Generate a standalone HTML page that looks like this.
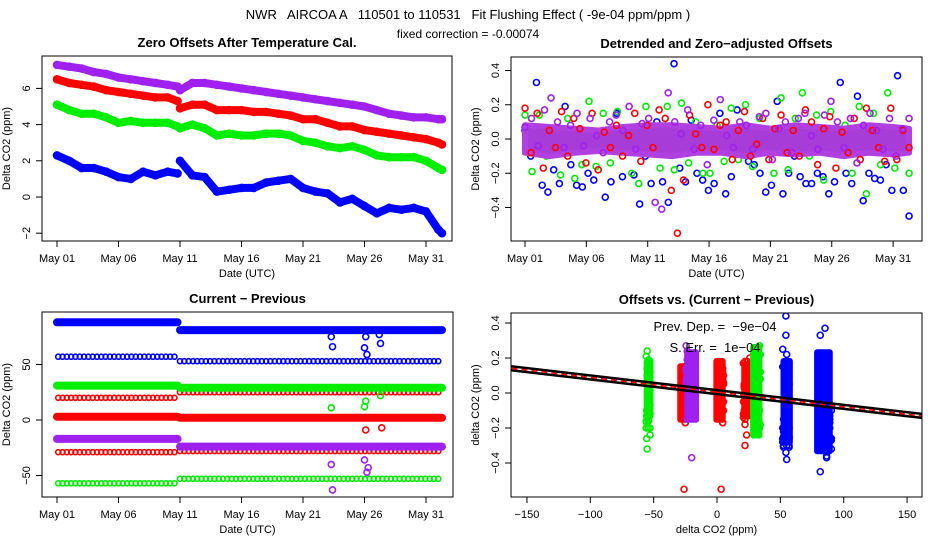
<!DOCTYPE html>
<html><head><meta charset="utf-8">
<style>
body{margin:0;background:#fff;}
svg{display:block;font-family:"Liberation Sans",sans-serif;}
.pre{white-space:pre;}
</style></head>
<body>
<svg id="chart" width="936" height="540" viewBox="0 0 936 540" xmlns="http://www.w3.org/2000/svg">
<rect width="936" height="540" fill="#fff"/>
<text class="pre" x="468" y="19" text-anchor="middle" font-size="13">NWR   AIRCOA A   110501 to 110531   Fit Flushing Effect ( -9e-04 ppm/ppm )</text>
<text x="468" y="38" text-anchor="middle" font-size="12">fixed correction = -0.00074</text>
<g id="g"></g>
</svg>
<script>
// ---- Panel 1: zero offsets (ppm) ----
const days1 = [0,1,2,3,4,5,6,7,8,9,9.8,10,11,12,13,14,15,16,17,18,19,20,21,22,23,24,25,26,27,28,29,30,31,31.3];
const breakAfter = 10;
const blue1   = [2.3,2.0,1.6,1.6,1.4,1.1,1.0,1.4,1.2,1.4,1.3, 2.0,1.2,1.1,0.3,0.4,0.5,0.5,0.8,0.9,1.0,0.5,0.3,0.2,-0.3,-0.1,-0.5,-0.9,-0.6,-0.7,-0.6,-0.8,-1.8,-2.0];
const red1    = [6.5,6.3,6.2,6.1,5.9,5.8,5.7,5.6,5.5,5.5,5.3, 4.9,5.1,5.1,4.8,4.8,4.8,4.7,4.7,4.6,4.5,4.3,4.3,4.1,3.9,3.9,3.7,3.6,3.5,3.4,3.3,3.2,3.0,2.9];
const green1  = [5.1,4.8,4.6,4.6,4.4,4.1,4.2,4.1,4.1,4.1,3.9, 3.8,4.0,3.8,3.4,3.5,3.4,3.4,3.5,3.5,3.4,3.1,3.0,2.8,2.7,2.8,2.6,2.3,2.2,2.2,2.2,2.0,1.6,1.5];
const purple1 = [7.3,7.2,7.1,6.9,6.8,6.6,6.5,6.4,6.3,6.2,6.1, 5.9,6.3,6.3,6.2,6.1,6.0,5.9,5.8,5.7,5.6,5.5,5.4,5.3,5.2,5.1,5.0,4.8,4.6,4.5,4.4,4.4,4.3,4.3];
const yTicks1 = [-2,0,2,4,6];
const dateTicks = [0,5,10,15,20,25,30];
const dateLabels = ["May 01","May 06","May 11","May 16","May 21","May 26","May 31"];

// ---- Panel 2: detrended offsets (ppm) ----
const blue2 = [0.05,-0.1,0.33,-0.27,-0.31,-0.18,-0.26,0.19,-0.15,-0.27,-0.28,-0.2,-0.24,0.0,-0.34,-0.25,0.15,-0.22,0.05,-0.21,-0.38,-0.1,-0.26,0.1,-0.25,-0.37,0.44,-0.17,-0.25,0.11,-0.2,-0.24,-0.3,-0.26,0.15,-0.32,-0.22,0.17,-0.05,-0.13,-0.15,-0.2,-0.31,-0.27,0.22,-0.32,-0.2,-0.1,-0.22,-0.26,-0.26,-0.2,-0.22,-0.32,-0.25,0.33,-0.2,-0.26,0.25,-0.36,-0.2,-0.23,-0.24,-0.15,-0.3,0.37,-0.3,-0.45];
const red2 = [0.18,-0.08,0.15,-0.17,0.05,-0.05,0.16,-0.1,0.12,0.06,-0.14,0.15,-0.18,0.04,-0.05,0.08,-0.1,0.02,0.15,-0.13,0.08,-0.05,0.17,0.12,-0.3,-0.55,-0.24,0.14,0.03,-0.05,0.2,-0.06,0.08,0.1,-0.12,0.05,0.16,-0.1,-0.03,0.12,-0.12,0.06,0.14,-0.08,0.05,-0.1,0.17,0.1,-0.15,0.06,0.13,-0.17,0.04,-0.08,0.12,-0.12,0.18,0.05,-0.05,-0.13,0.18,-0.12,0.05,-0.05];
const green2 = [0.14,-0.19,0.14,-0.1,0.06,-0.21,0.12,-0.23,-0.15,0.22,-0.16,0.15,-0.14,0.16,0.02,-0.2,-0.26,0.19,-0.07,-0.17,0.19,-0.18,0.21,-0.14,0.1,-0.2,-0.2,0.08,-0.13,0.18,-0.12,0.2,-0.16,0.12,0.05,-0.2,0.24,-0.18,0.12,0.27,-0.1,0.14,-0.24,0.16,-0.07,0.08,-0.2,0.19,-0.32,0.15,-0.15,0.27,-0.17,0.06,-0.2];
const purple2 = [0.07,0.12,-0.04,0.17,0.24,0.1,-0.05,0.08,0.15,-0.04,0.12,0.02,-0.08,0.1,0.14,0.05,0.19,-0.06,0.09,0.12,-0.37,-0.41,0.27,0.1,0.03,0.17,-0.06,0.08,-0.15,0.11,0.23,0.02,-0.05,0.1,0.08,-0.06,0.13,0.15,-0.12,0.06,0.1,-0.08,0.12,0.15,0.02,-0.06,0.14,0.22,0.1,-0.05,0.12,-0.14,0.08,0.15,0.05,-0.06,0.12,-0.1,0.06,0.12];
const bandDays = [0,2,4,6,8,10,12,14,16,18,20,22,24,26,28,30,31.3];
const bandHi = [0.08,0.07,0.06,0.05,0.07,0.08,0.08,0.07,0.06,0.08,0.06,0.08,0.07,0.06,0.08,0.07,0.06];
const bandLo = [-0.08,-0.1,-0.08,-0.07,-0.08,-0.09,-0.1,-0.08,-0.08,-0.1,-0.08,-0.09,-0.08,-0.1,-0.08,-0.09,-0.08];
const yTicks2 = [-0.4,-0.2,0.0,0.2,0.4];

// ---- Panel 3: current - previous (ppm) ----
const thickBefore = [88, 31, 3, -17];
const thickAfter  = [81, 29, 2, -24];
const thickColors = ["#0000ff","#00ee00","#ff0000","#a020f0"];
const openBefore = [57, 20, -29, -57];
const openAfter  = [53, 25, -28, -53];
const openColors = ["#0000ff","#ff0000","#ff0000","#00ee00"];
const outDays = [22.3,22.4,25.1,25.0,25.2,26.2,26.3, 22.3,25.0,25.1,26.3, 25.1,26.4, 22.3,22.4,25.0,25.2,25.3];
const outVals = [75,66,75,65,59,77,69, 11,12,17,22, -9,-7, -40,-63,-36,-47,-43];
const outColors = ["#0000ff","#0000ff","#0000ff","#0000ff","#0000ff","#0000ff","#0000ff","#00ee00","#00ee00","#00ee00","#00ee00","#ff0000","#ff0000","#a020f0","#a020f0","#a020f0","#a020f0","#a020f0"];
const yTicks3 = [-50,0,50];

// ---- Panel 4: offsets vs current-previous ----
const clusterX  = [-54,-27,-20,2,24,31,55,84];
const clusterLo = [-0.15,-0.17,-0.17,-0.17,-0.15,-0.26,-0.3,-0.35];
const clusterHi = [0.2,0.17,0.25,0.2,0.18,0.28,0.2,0.25];
const clusterW  = [3,4,7,5,5,5,5,10];
const clusterColors = ["#00ee00","#ff0000","#a020f0","#ff0000","#ff0000","#00ee00","#0000ff","#0000ff"];
const jitter = [-3,2,-1,4,-4,1,3,-2,0,5,-5,2];
const slope = -0.00084, intercept = 0.005;
const xTicks4 = [-150,-100,-50,0,50,100,150];
const yTicks4 = [-0.4,-0.2,0.0,0.2,0.4];

const NS="http://www.w3.org/2000/svg";
const root=document.getElementById('g');
function mk(tag,attrs,parent){const e=document.createElementNS(NS,tag);for(const k in attrs)e.setAttribute(k,attrs[k]);(parent||root).appendChild(e);return e;}
function txt(s,attrs,parent){const e=mk('text',attrs,parent);e.textContent=s;return e;}
const PURPLE="#a020f0";

function panel(name,box,title,xlab,ylab){
  const g=mk('g',{});
  
  
  const cid='clip-'+name;
  const cp=mk('clipPath',{id:cid},g);
  mk('rect',{x:box[0],y:box[1],width:box[2]-box[0],height:box[3]-box[1]},cp);
  const t=txt(title,{x:(box[0]+box[2])/2,y:box[1]-9,'text-anchor':'middle','font-size':13,'font-weight':'bold'},g);
  
  
  const xl=txt(xlab,{x:(box[0]+box[2])/2,y:box[3]+36,'text-anchor':'middle','font-size':11},g);
  
  
  const cy=(box[1]+box[3])/2;
  const yl=txt(ylab,{x:box[0]-32,y:cy,'text-anchor':'middle','font-size':11,transform:`rotate(-90 ${box[0]-32} ${cy})`},g);
  
  
  const data=mk('g',{'clip-path':`url(#${cid})`},g);
  
  
  const fr=mk('rect',{x:box[0],y:box[1],width:box[2]-box[0],height:box[3]-box[1],fill:'none',stroke:'#000','stroke-width':1},g);
  
  
  return {g,data,box};
}
function xAxis(p,vals,labels,sx){
  const b=p.box;
  const ax=mk('g',{},p.g);
  
  
  mk('line',{x1:sx(vals[0]),x2:sx(vals[vals.length-1]),y1:b[3],y2:b[3],stroke:'#000'},ax);
  vals.forEach((v,i)=>{
    mk('line',{x1:sx(v),x2:sx(v),y1:b[3],y2:b[3]+6,stroke:'#000'},ax);
    const t=txt(labels[i],{x:sx(v),y:b[3]+21,'text-anchor':'middle','font-size':11},ax);
    
    
  });
}
function yAxis(p,vals,sy,fmt){
  const b=p.box;
  const ax=mk('g',{},p.g);
  
  
  mk('line',{x1:b[0],x2:b[0],y1:sy(vals[0]),y2:sy(vals[vals.length-1]),stroke:'#000'},ax);
  vals.forEach(v=>{
    mk('line',{x1:b[0]-6,x2:b[0],y1:sy(v),y2:sy(v),stroke:'#000'},ax);
    const x=b[0]-12,y=sy(v);
    const t=txt(fmt(v),{x:x,y:y,'text-anchor':'middle','font-size':11,transform:`rotate(-90 ${x} ${y})`},ax);
    
    
  });
}
function circ(parent,x,y,color,r){
  const c=mk('circle',{cx:x,cy:y,r:r||2.6,fill:'none',stroke:color,'stroke-width':1.6},parent);
  
  
  return c;
}
function thickPath(parent,pts,color,w){
  const d=pts.map((p,i)=>(i?'L':'M')+p[0].toFixed(1)+' '+p[1].toFixed(1)).join(' ');
  return mk('path',{d:d,fill:'none',stroke:color,'stroke-width':w,'stroke-linecap':'round','stroke-linejoin':'round'},parent);
}

// ===== Panel 1 =====
{
  const p=panel('zero-offsets-panel',[42,56,452,241],'Zero Offsets After Temperature Cal.','Date (UTC)','Delta CO2 (ppm)');
  const sx=d=>57+d*12.3, sy=v=>197-v*18.1;
  xAxis(p,dateTicks,dateLabels,sx);
  yAxis(p,yTicks1,sy,v=>String(v).replace('-','\u2212'));
  const series=[[purple1,PURPLE,'purple'],[red1,'#ff0000','red'],[green1,'#00ee00','green'],[blue1,'#0000ff','blue']];
  series.forEach(([vals,col,nm])=>{
    const sg=mk('g',{},p.data);
    
    
    const a=[],b=[];
    days1.forEach((d,i)=>{(i<=breakAfter?a:b).push([sx(d),sy(vals[i])]);});
    [a,b].forEach(seg=>{const e=thickPath(sg,seg,col,8);});
    days1.forEach((d,i)=>circ(sg,sx(d),sy(vals[i]),col,3.5));
  });
}
// ===== Panel 2 =====
{
  const p=panel('detrended-panel',[511,57,922,241],'Detrended and Zero\u2212adjusted Offsets','Date (UTC)','Delta CO2 (ppm)');
  const sx=d=>525+d*12.27, sy=v=>139-v*171.25;
  xAxis(p,dateTicks,dateLabels,sx);
  yAxis(p,yTicks2,sy,v=>v.toFixed(1).replace('-','\u2212'));
  const span=31.3;
  const draw=(vals,col,nm)=>{
    const sg=mk('g',{},p.data);
    
    
    vals.forEach((v,i)=>circ(sg,sx(i*span/(vals.length-1)),sy(v),col,3));
  };
  draw(blue2,'#0000ff','blue');
  draw(green2,'#00ee00','green');
  const pts=bandDays.map((d,i)=>[sx(d),sy(bandHi[i])]).concat(bandDays.map((d,i)=>[sx(d),sy(bandLo[i])]).reverse());
  const band=mk('polygon',{points:pts.map(q=>q.join(',')).join(' '),fill:'#a83cd8',stroke:'#b040e0','stroke-width':6,'stroke-linejoin':'round'},p.data);
  
  
  draw(red2,'#ff0000','red');
  draw(purple2,PURPLE,'purple');
}
// ===== Panel 3 =====
{
  const p=panel('current-previous-panel',[42,312,453,497],'Current \u2212 Previous','Date (UTC)','Delta CO2 (ppm)');
  const sx=d=>57+d*12.3, sy=v=>420-v*1.11;
  xAxis(p,dateTicks,dateLabels,sx);
  yAxis(p,yTicks3,sy,v=>String(v).replace('-','\u2212'));
  openBefore.forEach((v,k)=>{
    const sg=mk('g',{},p.data);
    
    
    for(let d=0.1;d<=9.8;d+=0.35)circ(sg,sx(d),sy(v),openColors[k],2.5);
    for(let d=10;d<=31.3;d+=0.35)circ(sg,sx(d),sy(openAfter[k]),openColors[k],2.5);
  });
  thickBefore.forEach((v,k)=>{
    const sg=mk('g',{},p.data);
    
    
    const col=thickColors[k];
    thickPath(sg,[[sx(0),sy(v)],[sx(9.8),sy(v)]],col,8);
    thickPath(sg,[[sx(10),sy(thickAfter[k])],[sx(31.3),sy(thickAfter[k])]],col,8);
  });
  outDays.forEach((d,i)=>{const c=circ(p.data,sx(d),sy(outVals[i]),outColors[i],3);});
}
// ===== Panel 4 =====
{
  const p=panel('offsets-vs-diff-panel',[511,313,922,497],'Offsets vs. (Current \u2212 Previous)','delta CO2 (ppm)','delta CO2 (ppm)');
  const sx=v=>717+v*1.267, sy=v=>393-v*175;
  xAxis(p,xTicks4,xTicks4.map(v=>String(v).replace('-','\u2212')),sx);
  yAxis(p,yTicks4,sy,v=>v.toFixed(1).replace('-','\u2212'));
  const src=[green2,red2,purple2,red2,red2,green2,blue2,blue2];
  clusterX.forEach((cx,k)=>{
    const sg=mk('g',{},p.data);
    
    
    const col=clusterColors[k];
    const r=mk('rect',{x:sx(cx)-clusterW[k]*1.267/2-3,y:sy(clusterHi[k]),width:clusterW[k]*1.267+6,height:sy(clusterLo[k])-sy(clusterHi[k]),rx:3,fill:col},sg);
    
    
    src[k].forEach((v,i)=>{ if(i%2===k%2) circ(sg,sx(cx+jitter[i%jitter.length]*clusterW[k]/8),sy(v),col,3); });
  });
  const lg=mk('g',{},p.data);
  
  
  const x0=-170,x1=170;
  mk('line',{x1:sx(x0),y1:sy(intercept+slope*x0)-2,x2:sx(x1),y2:sy(intercept+slope*x1)-2,stroke:'#000','stroke-width':2.5},lg);
  mk('line',{x1:sx(x0),y1:sy(intercept+slope*x0)+2,x2:sx(x1),y2:sy(intercept+slope*x1)+2,stroke:'#000','stroke-width':2.5},lg);
  mk('line',{x1:sx(x0),y1:sy(intercept+slope*x0),x2:sx(x1),y2:sy(intercept+slope*x1),stroke:'#ff0000','stroke-width':1.5,'stroke-dasharray':'6 4'},lg);
  const a=txt('Prev. Dep. =  \u22129e\u221204',{x:715,y:331,'text-anchor':'middle','font-size':13,'class':'pre'},p.g);
  
  
  const b=txt('S. Err. =  1e\u221204',{x:715,y:352,'text-anchor':'middle','font-size':13,'class':'pre'},p.g);
  
  
}
</script>
</body></html>
